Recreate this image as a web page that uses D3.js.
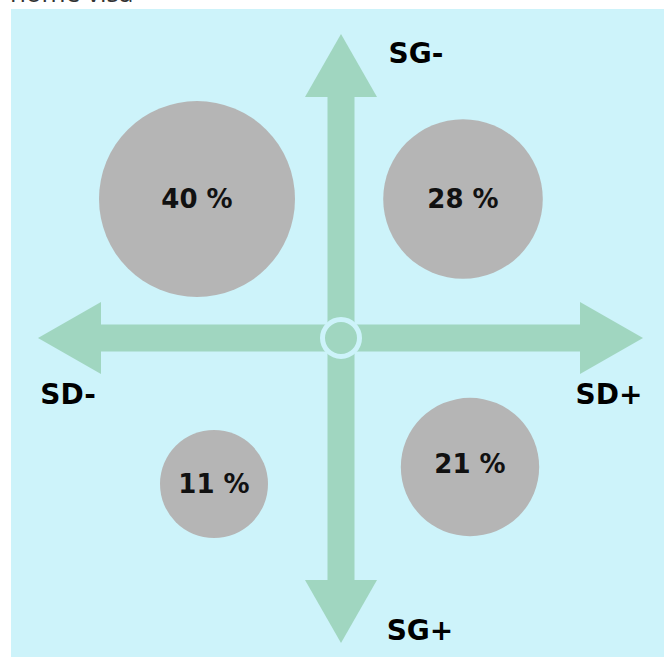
<!DOCTYPE html>
<html>
<head>
<meta charset="utf-8">
<script src="https://cdn.jsdelivr.net/npm/d3@7"></script>
<style>
  html, body { margin: 0; padding: 0; background: #fff; }
  svg { display: block; }
  text { font-family: "DejaVu Sans", sans-serif; font-weight: 700; }
</style>
</head>
<body>
<div id="chart"></div>
<script>
// quadrant shares
const quadrants = ['SD-/SG-', 'SD+/SG-', 'SD-/SG+', 'SD+/SG+'];
const shares = [40, 28, 11, 21];
const axisLabels = ['SG-', 'SD-', 'SD+', 'SG+'];

const width = 668, height = 657;
const svg = d3.select('#chart').append('svg')
  .attr('width', width)
  .attr('height', height);

// cropped title at the very top
svg.append('text')
  .attr('x', 10).attr('y', 2)
  .style('font-family', '"Open Sans", sans-serif')
  .style('font-weight', 400)
  .attr('font-size', 26)
  .attr('fill', '#333')
  .text('home visa');

svg.append('rect')
  .attr('x', 11).attr('y', 9)
  .attr('width', 653).attr('height', 648)
  .attr('fill', '#cdf3fa');

// axis space: SD on x, SG on y (SG- at top)
const cx = 341, cy = 338;
const x = d3.scaleLinear().domain([-1, 1]).range([38, 643]);
const y = d3.scaleLinear().domain([-1, 1]).range([34, 643]);

const green = '#a0d6c0';
const shaft = 27, headHalf = 36, headLen = 63;

// horizontal arrow
svg.append('rect')
  .attr('x', x(-1) + headLen).attr('y', cy - shaft / 2)
  .attr('width', x(1) - x(-1) - 2 * headLen).attr('height', shaft)
  .attr('fill', green);
svg.append('path')
  .attr('d', `M${x(-1)},${cy} L${x(-1) + headLen},${cy - headHalf} L${x(-1) + headLen},${cy + headHalf} Z`)
  .attr('fill', green);
svg.append('path')
  .attr('d', `M${x(1)},${cy} L${x(1) - headLen},${cy - headHalf} L${x(1) - headLen},${cy + headHalf} Z`)
  .attr('fill', green);

// vertical arrow
svg.append('rect')
  .attr('x', cx - shaft / 2).attr('y', y(-1) + headLen)
  .attr('width', shaft).attr('height', y(1) - y(-1) - 2 * headLen)
  .attr('fill', green);
svg.append('path')
  .attr('d', `M${cx},${y(-1)} L${cx - headHalf},${y(-1) + headLen} L${cx + headHalf},${y(-1) + headLen} Z`)
  .attr('fill', green);
svg.append('path')
  .attr('d', `M${cx},${y(1)} L${cx - headHalf},${y(1) - headLen} L${cx + headHalf},${y(1) - headLen} Z`)
  .attr('fill', green);

// centre ring
svg.append('circle')
  .attr('cx', cx).attr('cy', cy).attr('r', 18.5)
  .attr('fill', green)
  .attr('stroke', '#cdf3fa')
  .attr('stroke-width', 5);

// axis labels
const labelPos = {
  'SG-': [416, 63],
  'SD-': [68, 404],
  'SD+': [609, 404],
  'SG+': [420, 640]
};
svg.selectAll('.axis-label')
  .data(axisLabels)
  .enter().append('text')
  .attr('class', 'axis-label')
  .attr('x', d => labelPos[d][0])
  .attr('y', d => labelPos[d][1])
  .attr('text-anchor', 'middle')
  .attr('font-size', 28)
  .attr('fill', '#000')
  .text(d => d);

// bubbles
const r = d3.scaleLinear().domain([11, 40]).range([54, 98]);
const centres = {
  'SD-/SG-': [197, 199],
  'SD+/SG-': [463, 199],
  'SD-/SG+': [214, 484],
  'SD+/SG+': [470, 467]
};
const labelShift = { 'SD-/SG-': 0, 'SD+/SG-': 0, 'SD-/SG+': 0, 'SD+/SG+': -3 };
const data = quadrants.map((q, i) => ({ q, v: shares[i] }));

const g = svg.selectAll('.bubble')
  .data(data)
  .enter().append('g')
  .attr('class', 'bubble')
  .attr('transform', d => `translate(${centres[d.q][0]},${centres[d.q][1]})`);

g.append('circle')
  .attr('r', d => r(d.v))
  .attr('fill', '#b5b5b5');

g.append('text')
  .attr('text-anchor', 'middle')
  .attr('y', d => labelShift[d.q])
  .attr('dy', '0.36em')
  .attr('font-size', 26)
  .attr('fill', '#111')
  .text(d => d.v + ' %');
</script>
</body>
</html>
